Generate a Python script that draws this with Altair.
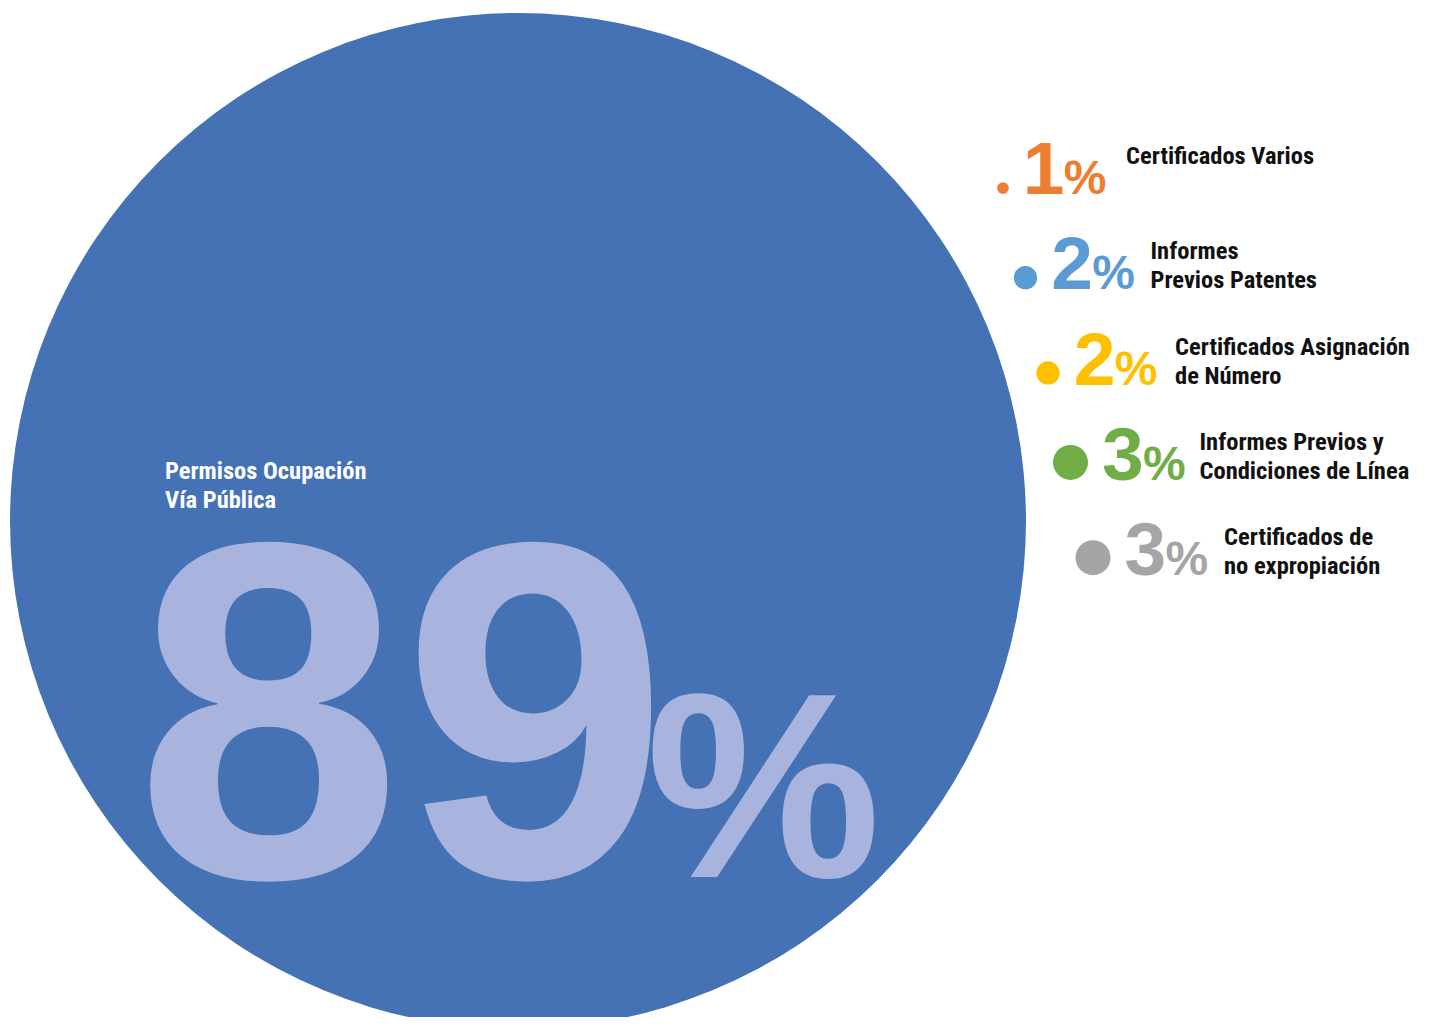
import altair as alt
import pandas as pd

# ---- data -------------------------------------------------------------
categories = [
    "Permisos Ocupación Vía Pública",
    "Certificados Varios",
    "Informes Previos Patentes",
    "Certificados Asignación de Número",
    "Informes Previos y Condiciones de Línea",
    "Certificados de no expropiación",
]
values = [89, 1, 2, 2, 3, 3]
labels = [
    "Permisos Ocupación\nVía Pública",
    "Certificados Varios",
    "Informes\nPrevios Patentes",
    "Certificados Asignación\nde Número",
    "Informes Previos y\nCondiciones de Línea",
    "Certificados de\nno expropiación",
]
colors = ["#4571B5", "#ED7D31", "#5B9BD5", "#FFC000", "#70AD47", "#A5A5A5"]

# ---- layout / style ---------------------------------------------------
W, H = 1421, 1009
NARROW = "Roboto Condensed, Open Sans Condensed, Roboto, sans-serif"
BOLD = "Liberation Sans, Arial, DejaVu Sans, sans-serif"
BIG_TEXT = "#A8B4DE"

df = pd.DataFrame({"category": categories, "value": values, "label": labels})
main_df = df.iloc[:1].reset_index(drop=True)
rest_df = df.iloc[1:].reset_index(drop=True)
rest_df["row"] = list(range(len(rest_df)))


def X(field):
    return alt.X(field, type="quantitative", scale=alt.Scale(domain=[0, W], nice=False, zero=False), axis=None)


def Y(field):
    return alt.Y(field, type="quantitative",
                 scale=alt.Scale(domain=[0, H], nice=False, zero=False, reverse=True), axis=None)


def C():
    return alt.Color("category:N", scale=alt.Scale(domain=categories, range=colors), legend=None)


# ---- big circle (main category) ---------------------------------------
big = alt.Chart(main_df).transform_calculate(
    cx="510", cy="513",
    tx="157", ty="471",
    nx="127", ny="869",
    px="638",
    num="format(datum.value, 'd')",
    pct="'%'",
)

big_circle = big.mark_circle(opacity=1, size=1016 * 1016).encode(
    x=X("cx"), y=Y("cy"), color=C(),
)
big_title = big.mark_text(
    align="left", baseline="alphabetic", font=NARROW, fontWeight="bold",
    fontSize=24.5, lineHeight=29, lineBreak="\n", color="white",
).encode(x=X("tx"), y=Y("ty"), text=alt.Text("label:N"))
big_num = big.mark_text(
    align="left", baseline="alphabetic", font=BOLD, fontWeight="bold",
    fontSize=480, color=BIG_TEXT,
).encode(x=X("nx"), y=Y("ny"), text=alt.Text("num:N"))
big_pct = big.mark_text(
    align="left", baseline="alphabetic", font=BOLD, fontWeight="bold",
    fontSize=264, color=BIG_TEXT,
).encode(x=X("px"), y=Y("ny"), text=alt.Text("pct:N"))

# ---- small categories -------------------------------------------------
small = alt.Chart(rest_df).transform_calculate(
    base_y="186 + 95.3 * datum.row",
    r="35 * datum.value / 6",
    cx="995 + 22.5 * datum.row",
    cy="datum.base_y - datum.r",
    nx="datum.cx + datum.r + 14",
    px="datum.nx + 41",
    lx="1118 + 24.5 * datum.row",
    ly="datum.base_y - 30",
    num="format(datum.value, 'd')",
    pct="'%'",
)

bullets = small.mark_circle(opacity=1).encode(
    x=X("cx"), y=Y("cy"),
    size=alt.Size("value:Q", scale=alt.Scale(type="pow", exponent=2, domain=[0, 3], range=[0, 1225]),
                  legend=None),
    color=C(),
)
nums = small.mark_text(
    align="left", baseline="alphabetic", font=BOLD, fontWeight="bold", fontSize=75,
).encode(x=X("nx"), y=Y("base_y"), text=alt.Text("num:N"), color=C())
pcts = small.mark_text(
    align="left", baseline="alphabetic", font=BOLD, fontWeight="bold", fontSize=48,
).encode(x=X("px"), y=Y("base_y"), text=alt.Text("pct:N"), color=C())
lbls = small.mark_text(
    align="left", baseline="alphabetic", font=NARROW, fontWeight="bold",
    fontSize=24.5, lineHeight=29, lineBreak="\n", color="#111111",
).encode(x=X("lx"), y=Y("ly"), text=alt.Text("label:N"))

chart = alt.layer(
    big_circle, big_title, big_num, big_pct, bullets, nums, pcts, lbls
).properties(
    width=W, height=H, padding=0, autosize=alt.AutoSizeParams(type="none"),
    background="white",
).configure_view(stroke=None)

chart.save("out.html", embed_options={"renderer": "svg", "actions": False})
